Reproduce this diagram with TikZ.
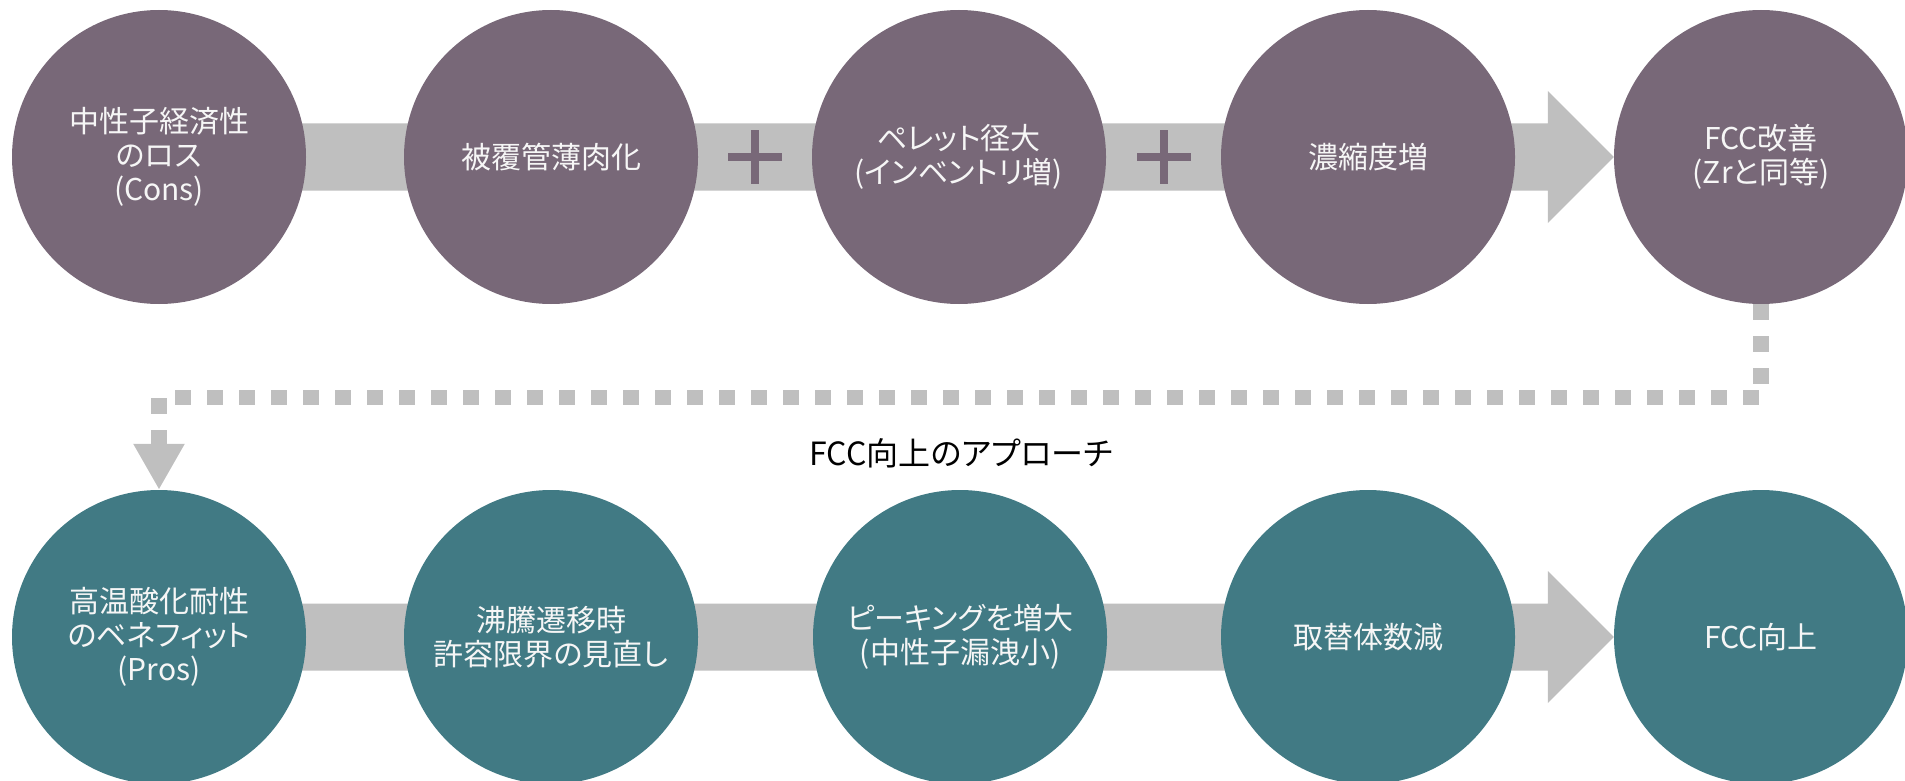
\documentclass[tikz,border=0pt]{standalone}
\usepackage{fontspec}
\setmainfont{Noto Sans CJK JP}[RawFeature=+palt]
\usetikzlibrary{calc,arrows.meta,backgrounds}
\definecolor{plum}{HTML}{786878}
\definecolor{tealc}{HTML}{417A84}
\definecolor{barc}{HTML}{BFBFBF}
\definecolor{txtc}{HTML}{F6F6F6}
\tikzset{
  bubble/.style={circle, minimum size=294pt, inner sep=0pt, text=txtc, align=center,
    font=\fontsize{30}{34}\selectfont},
  topb/.style={bubble, fill=plum},
  botb/.style={bubble, fill=tealc},
  barfill/.style={fill=barc},
  plusbar/.style={fill=plum},
  loopline/.style={draw=barc, line width=15.5pt, dash pattern=on 16pt off 16pt,
    -{Triangle[width=48pt,length=46pt]}},
  titlestyle/.style={text=black, font=\fontsize{32}{36}\selectfont, inner sep=0pt}
}
\begin{document}
\begin{tikzpicture}[x=1pt,y=-1pt]
\useasboundingbox (0,0) rectangle (1905,781);
% top row
\node[topb] (c1) at (159,157) {中性子経済性\\のロス\\(Cons)};
\node[topb] (c2) at (551,157) {被覆管薄肉化};
\node[topb] (c3) at (959,157) {ペレット径大\\(インベントリ増)};
\node[topb] (c4) at (1368,157) {濃縮度増};
\node[topb] (c5) at (1761,157) {FCC改善\\(Zrと同等)};
% bottom row
\node[botb] (c6) at (159,637) {高温酸化耐性\\のベネフィット\\(Pros)};
\node[botb] (c7) at (551,637) {沸騰遷移時\\許容限界の見直し};
\node[botb] (c8) at (960,637) {ピーキングを増大\\(中性子漏洩小)};
\node[botb] (c9) at (1368,637) {取替体数減};
\node[botb] (c10) at (1761,637) {FCC向上};
% title
\node[titlestyle] (title) at (961,453) {FCC向上のアプローチ};
% bars behind circles
\begin{pgfonlayer}{background}
\fill[barfill] ($(c1.center)+(0,-33.5)$) -- ($(c5.west)+(-66,-33.5)$) -- ($(c5.west)+(-66,-66)$)
  -- (c5.west) -- ($(c5.west)+(-66,66)$) -- ($(c5.west)+(-66,33.5)$) -- ($(c1.center)+(0,33.5)$) -- cycle;
\fill[barfill] ($(c6.center)+(0,-33.5)$) -- ($(c10.west)+(-66,-33.5)$) -- ($(c10.west)+(-66,-66)$)
  -- (c10.west) -- ($(c10.west)+(-66,66)$) -- ($(c10.west)+(-66,33.5)$) -- ($(c6.center)+(0,33.5)$) -- cycle;
\end{pgfonlayer}
% plus signs
\coordinate (p1) at ($(c2.east)!0.5!(c3.west)$);
\coordinate (p2) at ($(c3.east)!0.5!(c4.west)$);
\foreach \p in {p1,p2}{
  \fill[plusbar] ($(\p)+(-27,-4)$) rectangle ($(\p)+(27,4)$);
  \fill[plusbar] ($(\p)+(-4,-27)$) rectangle ($(\p)+(4,27)$);
}
% dotted loop connector
\draw[loopline] (c5.south) -- ++(0,93.5) -| (c6.north);
\end{tikzpicture}
\end{document}
